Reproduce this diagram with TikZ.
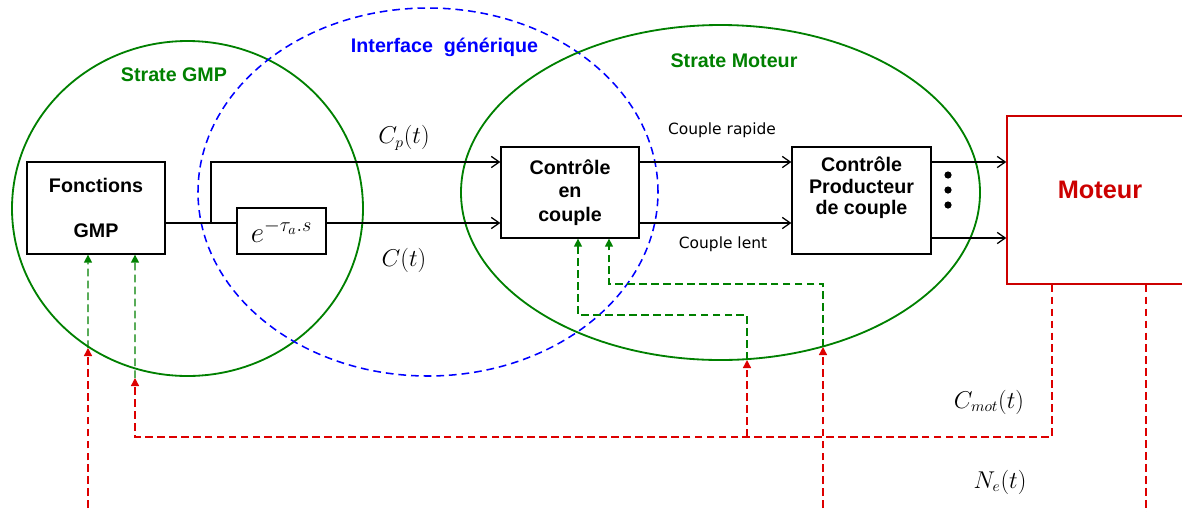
\documentclass[tikz,border=0pt]{standalone}
\usepackage{fontspec}
\setmainfont{Liberation Sans}
\newfontfamily\dejavu{DejaVu Sans}
\usepackage{tikz}
\usetikzlibrary{arrows.meta}
\definecolor{zgreen}{HTML}{008000}
\definecolor{ifblue}{HTML}{0000FF}
\definecolor{motred}{HTML}{CC0000}
\definecolor{fbred}{HTML}{DD0000}
\tikzset{
  zone/.style={draw=zgreen, line width=1.3pt},
  ifline/.style={draw=ifblue, line width=1.1pt, dash pattern=on 5.5pt off 3.5pt},
  btxt/.style={align=center, font=\bfseries\fontsize{14}{16.5}\selectfont},
  blk/.style={btxt, draw=black, line width=0.9pt},
  wire/.style={draw=black, line width=0.9pt},
  arr/.style={wire, -{Straight Barb[length=2mm,width=2.8mm]}},
  gfb/.style={draw=zgreen, line width=1pt, dash pattern=on 5.5pt off 3pt, -{Triangle[length=2mm,width=2mm]}},
  rfb/.style={draw=fbred, line width=1pt, dash pattern=on 5.5pt off 3pt, -{Triangle[length=2mm,width=2mm]}},
  rline/.style={draw=fbred, line width=1pt, dash pattern=on 5.5pt off 3pt},
  ztitle/.style={text=zgreen, font=\bfseries\fontsize{14}{16}\selectfont},
  sig/.style={font=\fontsize{16}{19}\selectfont},
  lab/.style={font=\dejavu\fontsize{11}{13}\selectfont},
}
\begin{document}
\begin{tikzpicture}
  \clip (0,0) rectangle (29.55,-12.775);
  \draw[zone] (4.6875,-5.2125) ellipse [x radius=4.3875, y radius=4.1875];
  \draw[ifline] (10.7,-4.8) ellipse [x radius=5.75, y radius=4.6];
  \draw[zone] (18.0125,-4.8125) ellipse [x radius=6.4875, y radius=4.1875];
  \node[ztitle] (tgmp) at (4.35,-1.875) {Strate GMP};
  \node[text=ifblue, font=\bfseries\fontsize{14}{16}\selectfont] (tif) at (11.1125,-1.175) {Interface\ \ générique};
  \node[ztitle] (tmot) at (18.35,-1.525) {Strate Moteur};

  \node[blk, minimum width=3.45cm, minimum height=2.3cm] (gmp) at (2.4,-5.2) {Fonctions\\[15pt]GMP};
  \node[blk, font=\fontsize{20}{22}\selectfont, minimum width=2.225cm, minimum height=1.15cm] (ebox) at (7.0375,-5.775) {$e^{-\tau_a . s}$};
  \node[blk, minimum width=3.45cm, minimum height=2.275cm] (ctrl) at (14.25,-4.8125) {Contrôle\\en\\couple};
  \node[blk, minimum width=3.475cm, minimum height=2.675cm] (prod) at (21.5375,-5.0125) {};
  \node[btxt, font=\bfseries\fontsize{14}{15.3}\selectfont] (prodtxt) at (21.5375,-4.7) {Contrôle\\Producteur\\de couple};
  \node[draw=motred, line width=1pt, minimum width=4.65cm, minimum height=4.2cm] (mot) at (27.5,-5) {};
  \node[text=motred, font=\bfseries\fontsize{18}{20}\selectfont] (mottxt) at (27.5,-4.75) {Moteur};

  \coordinate (up) at (0,-4.05);
  \coordinate (lo) at (0,-5.575);
  \coordinate (lo2) at (0,-5.95);
  \coordinate (jct) at (5.275,-5.575);
  \draw[wire] (gmp.east |- lo) -- (ebox.west |- lo);
  \draw[arr] (jct) |- (ctrl.west |- up);
  \draw[arr] (ebox.east |- lo) -- (ctrl.west |- lo);
  \draw[arr] (ctrl.east |- up) -- (prod.west |- up);
  \draw[arr] (ctrl.east |- lo) -- (prod.west |- lo);
  \draw[arr] (prod.east |- up) -- (mot.west |- up);
  \draw[arr] (prod.east |- lo2) -- (mot.west |- lo2);
  \foreach \y in {-4.375,-4.75,-5.125}
    \fill (23.7,\y) circle (0.09);

  \node[sig] (lcp) at (10.1,-3.45) {$C_p(t)$};
  \node[sig] (lc) at (10.1,-6.5) {$C(t)$};
  \node[lab] (lrap) at (18.05,-3.25) {Couple rapide};
  \node[lab] (llent) at (18.075,-6.1) {Couple lent};
  \node[sig] (lcmot) at (24.725,-10.05) {$C_{mot}(t)$};
  \node[sig] (lne) at (25.0,-12.05) {$N_e(t)$};

  \coordinate (fb1) at (18.675,-9.0);
  \coordinate (fb2) at (20.575,-8.675);
  \coordinate (fb3) at (2.2,-8.7);
  \coordinate (fb4) at (3.375,-9.45);
  \coordinate (cmot) at (18.675,-10.925);
  \coordinate (bot) at (0,-13.0);
  \draw[gfb] (fb1) -- ++(0,1.125) -| ([xshift=2mm]ctrl.south);
  \draw[gfb] (fb2) -- ++(0,1.575) -| ([xshift=9.75mm]ctrl.south);
  \draw[gfb] (fb3) -- ([xshift=-2mm]gmp.south);
  \draw[gfb] (fb4) -- ([xshift=9.75mm]gmp.south);
  \draw[rfb] ([xshift=-12mm]mot.south) |- (cmot) -| (fb4);
  \draw[rfb] (cmot) -- (fb1);
  \draw[rline] ([xshift=11.5mm]mot.south) -- ([xshift=11.5mm]mot.south |- bot);
  \draw[rfb] (fb2 |- bot) -- (fb2);
  \draw[rfb] (fb3 |- bot) -- (fb3);
\end{tikzpicture}
\end{document}
